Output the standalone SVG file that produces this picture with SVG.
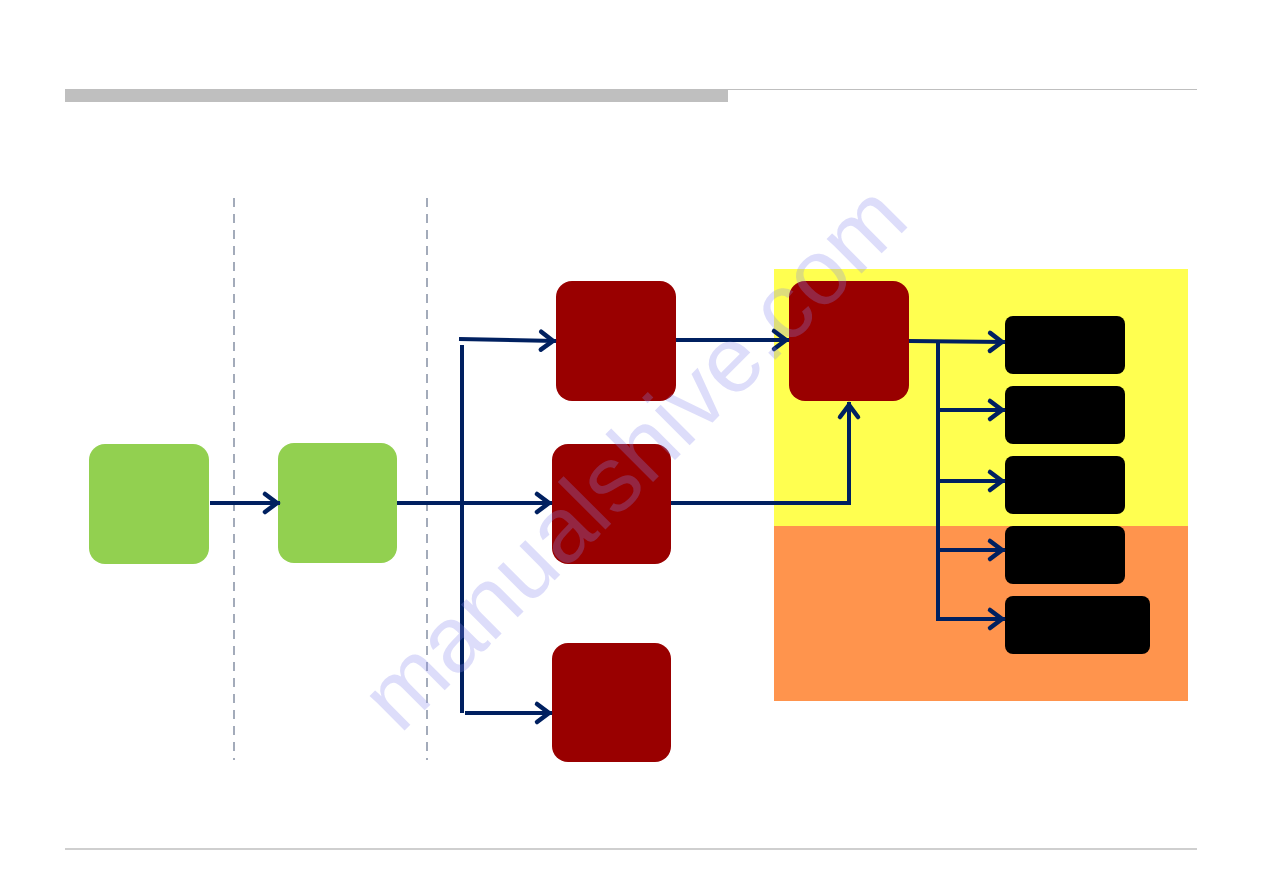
<svg xmlns="http://www.w3.org/2000/svg" width="1263" height="893" viewBox="0 0 1263 893">
  <defs>
    <style>
      .green { fill: #92d050; }
      .red { fill: #990000; }
      .blk { fill: #000000; }
      .conn { fill: none; stroke: #002060; stroke-width: 4; stroke-linejoin: miter; }
      .dash { stroke: #a3abba; stroke-width: 2; stroke-dasharray: 9 7; }
      .wm { font-family: "Liberation Sans", Arial, sans-serif; font-size: 93px; fill: #8888ee; opacity: 0.28; }
    </style>
    <marker id="arr" markerUnits="userSpaceOnUse" markerWidth="30" markerHeight="30" viewBox="-20 -15 30 30" refX="0" refY="0" orient="auto" overflow="visible">
      <path d="M-15,-9 L-3,0 L-15,9" fill="none" stroke="#002060" stroke-width="4.5" stroke-linecap="round" stroke-linejoin="miter"/>
    </marker>
  </defs>

  <rect width="1263" height="893" fill="#ffffff"/>

  <g id="header">
    <rect x="65" y="89" width="663" height="13" fill="#bfbfbf"/>
    <line x1="728" y1="89.5" x2="1197" y2="89.5" stroke="#bfbfbf" stroke-width="1"/>
    <line x1="65" y1="849" x2="1197" y2="849" stroke="#bfbfbf" stroke-width="1.5"/>
  </g>

  <g id="separators">
    <line class="dash" x1="234" y1="198" x2="234" y2="760"/>
    <line class="dash" x1="427" y1="198" x2="427" y2="760"/>
  </g>

  <g id="zones">
    <rect id="zone-yellow" x="774" y="269" width="414" height="257" fill="#ffff50"/>
    <rect id="zone-orange" x="774" y="526" width="414" height="175" fill="#ff944d"/>
  </g>

  <g id="node-g1"><rect class="green" x="89" y="444" width="120" height="120" rx="16"/></g>
  <g id="node-g2"><rect class="green" x="278" y="443" width="119" height="120" rx="16"/></g>
  <g id="node-r1"><rect class="red" x="556" y="281" width="120" height="120" rx="16"/></g>
  <g id="node-r2"><rect class="red" x="552" y="444" width="119" height="120" rx="16"/></g>
  <g id="node-r3"><rect class="red" x="552" y="643" width="119" height="119" rx="16"/></g>
  <g id="node-r4"><rect class="red" x="789" y="281" width="120" height="120" rx="16"/></g>
  <g id="node-b1"><rect class="blk" x="1005" y="316" width="120" height="58" rx="8"/></g>
  <g id="node-b2"><rect class="blk" x="1005" y="386" width="120" height="58" rx="8"/></g>
  <g id="node-b3"><rect class="blk" x="1005" y="456" width="120" height="58" rx="8"/></g>
  <g id="node-b4"><rect class="blk" x="1005" y="526" width="120" height="58" rx="8"/></g>
  <g id="node-b5"><rect class="blk" x="1005" y="596" width="145" height="58" rx="8"/></g>

  <g id="connectors">
    <line class="conn" x1="210" y1="503" x2="280" y2="503" marker-end="url(#arr)"/>
    <line class="conn" x1="397" y1="503" x2="552" y2="503" marker-end="url(#arr)"/>
    <line class="conn" x1="459" y1="339" x2="556" y2="341" marker-end="url(#arr)"/>
    <line class="conn" x1="462" y1="345" x2="462" y2="713"/>
    <line class="conn" x1="465" y1="713" x2="552" y2="713" marker-end="url(#arr)"/>
    <line class="conn" x1="676" y1="340" x2="789" y2="340" marker-end="url(#arr)"/>
    <polyline class="conn" points="671,503 849,503 849,402" marker-end="url(#arr)"/>
    <line class="conn" x1="909" y1="341" x2="1005" y2="342" marker-end="url(#arr)"/>
    <line class="conn" x1="938" y1="341" x2="938" y2="621"/>
    <line class="conn" x1="938" y1="410" x2="1005" y2="410" marker-end="url(#arr)"/>
    <line class="conn" x1="938" y1="481" x2="1005" y2="481" marker-end="url(#arr)"/>
    <line class="conn" x1="938" y1="550" x2="1005" y2="550" marker-end="url(#arr)"/>
    <line class="conn" x1="936" y1="619" x2="1005" y2="619" marker-end="url(#arr)"/>
  </g>

  <text class="wm" x="400" y="735" transform="rotate(-45 400 735)">manualshive.com</text>
</svg>
